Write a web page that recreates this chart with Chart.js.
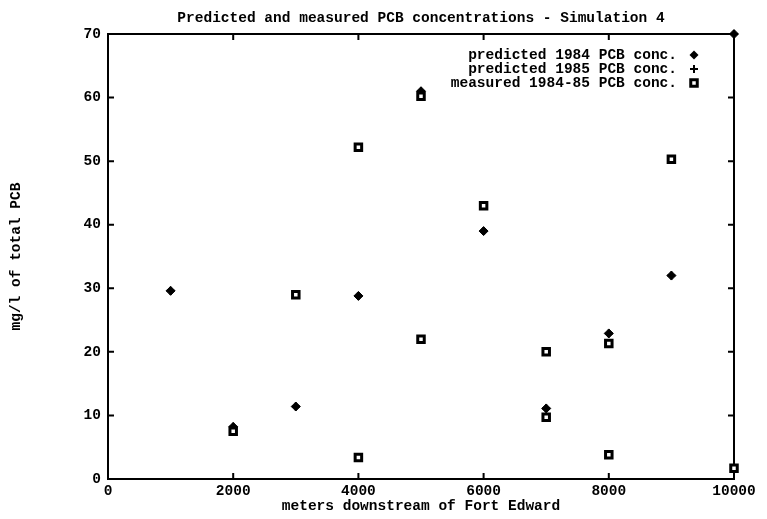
<!DOCTYPE html>
<html>
<head>
<meta charset="utf-8">
<title>PCB concentrations - Simulation 4</title>
<script src="https://cdn.jsdelivr.net/npm/chart.js@4.4.1/dist/chart.umd.min.js"></script>
<style>
  html, body { margin: 0; padding: 0; background: #fff; }
  #wrap { width: 767px; height: 519px; }
</style>
</head>
<body>
<div id="wrap"><canvas id="chart" width="767" height="519"></canvas></div>
<script>
// stations, metres downstream of Fort Edward
const predStations = [1000, 2000, 3000, 4000, 5000, 6000, 7000, 8000, 9000, 10000];
// predicted total PCB, mg/l
const pred1984 = [29.6, 8.2, 11.4, 28.8, 61.0, 39.0, 11.1, 22.9, 32.0, 70.0];
const pred1985 = [29.6, 8.2, 11.4, 28.8, 61.0, 39.0, 11.1, 22.9, 32.0, 70.0];

// measured samples 1984-85
const measStations = [2000, 3000, 4000, 4000, 5000, 5000, 6000, 7000, 7000, 8000, 8000, 9000, 10000];
const measured = [7.5, 29.0, 52.2, 3.4, 60.2, 22.0, 43.0, 20.0, 9.7, 21.3, 3.8, 50.3, 1.7];

const xTickLabels = ['0', '2000', '4000', '6000', '8000', '10000'];
const yTickLabels = ['0', '10', '20', '30', '40', '50', '60', '70'];

const seriesNames = ['predicted 1984 PCB conc.', 'predicted 1985 PCB conc.', 'measured 1984-85 PCB conc.'];

const FONT = "'Liberation Mono', 'DejaVu Sans Mono', monospace";
Chart.defaults.font.family = FONT;
Chart.defaults.font.size = 14.5;
Chart.defaults.font.weight = 'bold';
Chart.defaults.color = '#000';

const toPoints = (xs, ys) => xs.map((x, i) => ({ x, y: ys[i] }));

// box round the plot with inward tick marks on all four sides
const framePlugin = {
  id: 'frame',
  beforeDatasetsDraw(chart) {
    const { ctx, chartArea: a, scales: { x, y } } = chart;
    const len = 6;
    ctx.save();
    ctx.strokeStyle = '#000';
    ctx.lineWidth = 2;
    ctx.strokeRect(a.left, a.top, a.right - a.left, a.bottom - a.top);
    ctx.beginPath();
    x.ticks.forEach(t => {
      if (t.value <= x.min || t.value >= x.max) return;
      const px = x.getPixelForValue(t.value);
      ctx.moveTo(px, a.bottom); ctx.lineTo(px, a.bottom - len);
      ctx.moveTo(px, a.top); ctx.lineTo(px, a.top + len);
    });
    y.ticks.forEach(t => {
      if (t.value <= y.min || t.value >= y.max) return;
      const py = y.getPixelForValue(t.value);
      ctx.moveTo(a.left, py); ctx.lineTo(a.left + len, py);
      ctx.moveTo(a.right, py); ctx.lineTo(a.right - len, py);
    });
    ctx.stroke();
    ctx.restore();
  }
};

function drawMarker(ctx, style, cx, cy) {
  ctx.save();
  ctx.strokeStyle = '#000';
  ctx.fillStyle = '#000';
  ctx.beginPath();
  if (style === 'rectRot') {
    const r = 4.5;
    ctx.moveTo(cx - r, cy); ctx.lineTo(cx, cy - r);
    ctx.lineTo(cx + r, cy); ctx.lineTo(cx, cy + r);
    ctx.closePath();
    ctx.fill();
  } else if (style === 'cross') {
    const r = 4;
    ctx.lineWidth = 2;
    ctx.moveTo(cx, cy - r); ctx.lineTo(cx, cy + r);
    ctx.moveTo(cx - r, cy); ctx.lineTo(cx + r, cy);
    ctx.stroke();
  } else {
    const s = 3.25;
    ctx.lineWidth = 3;
    ctx.fillStyle = '#fff';
    ctx.rect(cx - s, cy - s, 2 * s, 2 * s);
    ctx.fill();
    ctx.stroke();
  }
  ctx.restore();
}

// key in the upper right: text right-aligned, symbol after it
const keyPlugin = {
  id: 'key',
  afterDatasetsDraw(chart) {
    const { ctx, chartArea: a } = chart;
    const textRight = a.right - 57;
    const symX = a.right - 40;
    const rowY = [a.top + 21, a.top + 35, a.top + 49];
    ctx.save();
    ctx.font = 'bold 14.5px ' + FONT;
    ctx.fillStyle = '#000';
    ctx.textAlign = 'right';
    ctx.textBaseline = 'middle';
    chart.data.datasets.forEach((ds, i) => {
      ctx.fillText(ds.label, textRight, rowY[i]);
      drawMarker(ctx, ds.pointStyle, symX, rowY[i]);
    });
    ctx.restore();
  }
};

new Chart(document.getElementById('chart'), {
  type: 'scatter',
  data: {
    datasets: [
      {
        label: seriesNames[0],
        data: toPoints(predStations, pred1984),
        pointStyle: 'rectRot',
        pointRadius: 4.5,
        backgroundColor: '#000',
        borderColor: '#000',
        borderWidth: 1,
        order: 1,
        clip: false
      },
      {
        label: seriesNames[1],
        data: toPoints(predStations, pred1985),
        pointStyle: 'cross',
        pointRadius: 4,
        borderColor: '#000',
        borderWidth: 2,
        order: 2,
        clip: false
      },
      {
        label: seriesNames[2],
        data: toPoints(measStations, measured),
        pointStyle: 'rect',
        pointRadius: 4.6,
        backgroundColor: '#fff',
        borderColor: '#000',
        borderWidth: 3,
        order: 0,
        clip: false
      }
    ]
  },
  options: {
    responsive: false,
    animation: false,
    events: [],
    layout: { padding: { left: 0, right: 33, top: 0, bottom: 0 } },
    plugins: {
      legend: { display: false },
      tooltip: { enabled: false },
      title: {
        display: true,
        fullSize: false,
        text: 'Predicted and measured PCB concentrations - Simulation 4',
        color: '#000',
        font: { size: 14.5, weight: 'bold', lineHeight: 1 },
        padding: { top: 11, bottom: 8.5 }
      }
    },
    scales: {
      x: {
        type: 'linear',
        min: 0,
        max: 10000,
        grid: { display: false, drawTicks: false },
        border: { display: false },
        ticks: {
          stepSize: 2000,
          autoSkip: false,
          maxRotation: 0,
          padding: 5,
          font: { lineHeight: 1 },
          callback: (v, i) => xTickLabels[i]
        },
        title: {
          display: true,
          text: 'meters downstream of Fort Edward',
          font: { lineHeight: 1 },
          padding: { top: 0, bottom: 5 }
        },
        afterFit: s => { s.height = 40; }
      },
      y: {
        min: 0,
        max: 70,
        grid: { display: false, drawTicks: false },
        border: { display: false },
        ticks: {
          stepSize: 10,
          padding: 7,
          font: { lineHeight: 1 },
          callback: (v, i) => yTickLabels[i]
        },
        title: {
          display: true,
          text: 'mg/l of total PCB',
          font: { lineHeight: 1 },
          padding: { top: 9, bottom: 0 }
        },
        afterFit: s => { s.width = 108; }
      }
    }
  },
  plugins: [framePlugin, keyPlugin]
});
</script>
</body>
</html>
